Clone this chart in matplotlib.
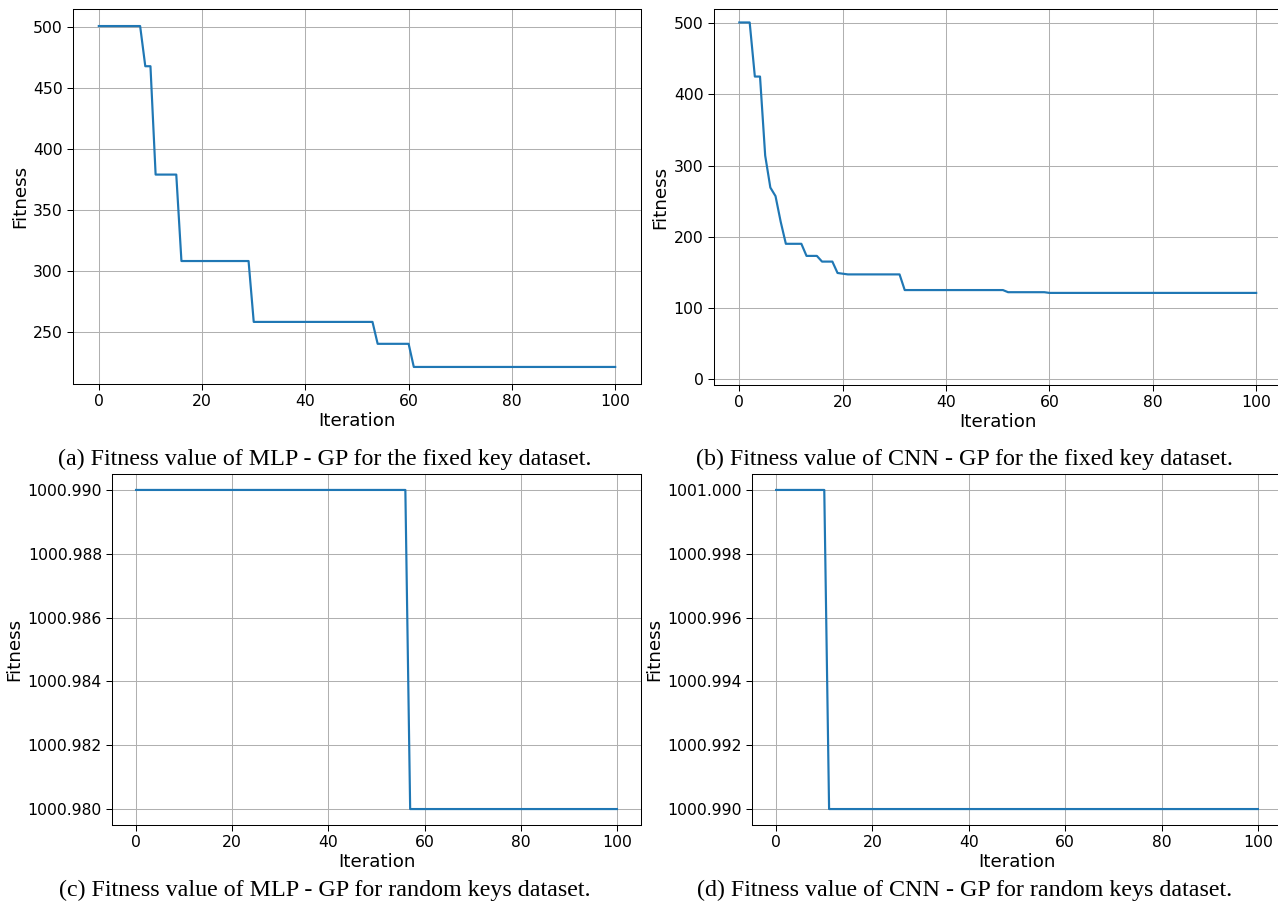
import matplotlib
matplotlib.use("Agg")
import matplotlib.pyplot as plt

# iteration / best fitness at the points where the curve changes
mlp_fixed_iter = [0, 8, 9, 10, 11, 15, 16, 29, 30, 53, 54, 60, 61, 100]
mlp_fixed_fit = [501, 501, 468, 468, 379, 379, 308, 308, 258, 258, 240, 240, 221, 221]

cnn_fixed_iter = [0, 2, 3, 4, 5, 6, 7, 8, 9, 12, 13, 15, 16, 18, 19, 20, 21, 31, 32, 51, 52, 59, 60, 100]
cnn_fixed_fit = [501, 501, 425, 425, 314, 269, 257, 221, 190, 190, 173, 173, 165, 165, 149, 148, 147, 147,
                 125, 125, 122, 122, 121, 121]

mlp_random_iter = [0, 56, 57, 100]
mlp_random_fit = [1000.99, 1000.99, 1000.98, 1000.98]

cnn_random_iter = [0, 10, 11, 100]
cnn_random_fit = [1001.0, 1001.0, 1000.99, 1000.99]

captions = [
    "(a) Fitness value of MLP - GP for the fixed key dataset.",
    "(b) Fitness value of CNN - GP for the fixed key dataset.",
    "(c) Fitness value of MLP - GP for random keys dataset.",
    "(d) Fitness value of CNN - GP for random keys dataset.",
]

plt.rcParams["xtick.labelsize"] = 12.2
plt.rcParams["ytick.labelsize"] = 12.2
plt.rcParams["axes.labelsize"] = 14.3
plt.rcParams["xtick.major.size"] = 4.4
plt.rcParams["ytick.major.size"] = 4.4
plt.rcParams["lines.linewidth"] = 1.7

W, H = 1278, 906
fig = plt.figure(figsize=(W / 92, H / 92), dpi=92)


def px_axes(x0, y0, x1, y1):
    return fig.add_axes([x0 / W, 1 - y1 / H, (x1 - x0) / W, (y1 - y0) / H])


ax_a = px_axes(73, 9, 641, 384)
ax_b = px_axes(713.5, 9.3, 1282, 385)
ax_c = px_axes(112, 474, 641, 825)
ax_d = px_axes(752, 474, 1282, 825)

ax_a.plot(mlp_fixed_iter, mlp_fixed_fit)
ax_b.plot(cnn_fixed_iter, cnn_fixed_fit)
ax_c.plot(mlp_random_iter, mlp_random_fit)
ax_d.plot(cnn_random_iter, cnn_random_fit)

ax_b.set_ylim(-8.4, 519.5)

for ax in (ax_c, ax_d):
    ax.ticklabel_format(axis="y", useOffset=False)
    ax.yaxis.set_major_formatter(plt.FormatStrFormatter("%.3f"))

for ax in (ax_a, ax_b, ax_c, ax_d):
    ax.set_xlabel("Iteration", labelpad=2.5)
    ax.set_ylabel("Fitness", labelpad=3)
    ax.grid(True)

serif = ["Liberation Serif", "DejaVu Serif"]
fig.text(325 / W, 1 - 459 / H, captions[0], ha="center", va="center", family=serif, fontsize=18.8)
fig.text(965 / W, 1 - 459 / H, captions[1], ha="center", va="center", family=serif, fontsize=18.8)
fig.text(325 / W, 1 - 890 / H, captions[2], ha="center", va="center", family=serif, fontsize=18.8)
fig.text(965 / W, 1 - 890 / H, captions[3], ha="center", va="center", family=serif, fontsize=18.8)

fig.savefig("out.png", dpi=92)
